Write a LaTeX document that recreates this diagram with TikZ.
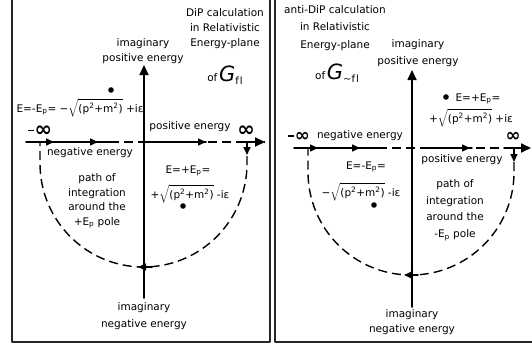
\documentclass[tikz,border=0pt]{standalone}
\usepackage{fontspec}
\setmainfont{DejaVu Sans}
\usetikzlibrary{arrows.meta}
\newcommand{\rad}[1]{$\sqrt{\mbox{#1}}$}
\newcommand{\sqd}{\textsuperscript{2}}
\newcommand{\Ep}{E\textsubscript{p}}
\newcommand{\infsym}[1]{{\fontsize{#1}{#1}\selectfont\bfseries ∞}}
\newcommand{\minf}[1]{\rule[5pt]{5.5pt}{1.5pt}\kern1pt\infsym{#1}}
\newcommand{\Gof}[1]{of\,{\fontsize{21}{21}\selectfont\itshape G}\raisebox{-3pt}{\fontsize{10}{10}\selectfont #1}}
\begin{document}
\begin{tikzpicture}[line join=round, line cap=round, x=1pt, y=-1pt,
  font=\fontsize{10.5}{15}\selectfont, >={Triangle[length=10pt,width=9pt]}]
\tikzset{lbl/.style={align=center, inner sep=0pt},
  axis/.style={line width=1.7pt},
  contour/.style={line width=1.4pt, dash pattern=on 9pt off 5pt, line cap=butt},
  midtip/.style={line width=1.5pt, -{Triangle[length=8pt,width=7pt]}},
  panel/.style={line width=1.8pt, draw=black!85}}
\useasboundingbox (0,0) rectangle (532,349);
% frames
\draw[panel] (12,0) -- (12,342) -- (270,342) -- (270,0);
\draw[panel] (275,0) -- (275,342) -- (532,342);
% left plane
\path (26,142) coordinate (Lw) (265,142) coordinate (Le)
  (144,298) coordinate (Ls) (144,65) coordinate (Ln)
  (40,142) coordinate (La) (247,142) coordinate (Lb);
\draw[contour] (Lw) -- (Le);
\draw[contour] (Lb) -- ++(0,21.5) arc[start angle=0, end angle=180, radius=103.5] -- (La);
\draw[axis] (Lw) -- (112,142);
\draw[axis] (144,142) -- (206,142);
\draw[axis,->] (238,142) -- (Le);
\draw[axis,->] (Ls) -- (Ln);
\foreach \a/\b in {44/54, 84/98, 194/206}
  \draw[midtip] (\a,142) -- (\b,142);
\draw[midtip] (Lb) -- (247,155);
\draw[midtip] (152,267) -- (138,267);
\foreach \p in {(111,90),(183,206)}
  \fill \p circle (2.8);
\node[lbl] (titleL) at (225,29) {DiP calculation\\in Relativistic\\Energy-plane};
\node[lbl] (ofL) at (225,75) {\Gof{f\kern1pt l}};
\node[lbl] (imagpL) at (143,51) {imaginary\\positive energy};
\node[lbl] (minusE) at (80,108) {E=-\Ep= −\rad{(p\sqd+m\sqd)} +iε};
\node[lbl] (minfL) at (40,131) {\minf{21}};
\node[lbl] (infL) at (246,131) {\infsym{21}};
\node[lbl] (posL) at (190,127) {positive energy};
\node[lbl] (negL) at (90,153) {negative energy};
\node[lbl] (plusEa) at (188,171) {E=+\Ep=};
\node[lbl] (plusEb) at (190,194) {+\rad{(p\sqd+m\sqd)} -iε};
\node[lbl, font=\fontsize{10.5}{14.5}\selectfont] (pathL) at (97,201) {path of\\integration\\around the\\+\Ep{} pole};
\node[lbl, font=\fontsize{10.5}{16.5}\selectfont] (imagnL) at (144,316) {imaginary\\negative energy};
% right plane
\path (294,148) coordinate (Rw) (531,148) coordinate (Re)
  (412,307) coordinate (Rs) (412,70) coordinate (Rn)
  (308,148) coordinate (Ra) (514,148) coordinate (Rb);
\draw[contour] (Rw) -- (Re);
\draw[contour] (Rb) -- ++(0,24) arc[start angle=0, end angle=180, radius=103] -- (Ra);
\draw[axis] (Rw) -- (380,148);
\draw[axis] (425,148) -- (472,148);
\draw[axis,->] (504,148) -- (Re);
\draw[axis,->] (Rs) -- (Rn);
\foreach \a/\b in {306/318, 346/360, 458/470}
  \draw[midtip] (\a,148) -- (\b,148);
\draw[midtip] (Rb) -- (514,162);
\draw[midtip] (418,275) -- (404,275);
\foreach \p in {(446,97),(374,205)}
  \fill \p circle (2.8);
\node[lbl, font=\fontsize{10.5}{17.5}\selectfont] (titleR) at (335,28) {anti-DiP calculation\\in Relativistic\\Energy-plane};
\node[lbl] (ofR) at (337,73) {\Gof{\textasciitilde f\kern1pt l}};
\node[lbl, font=\fontsize{10.5}{17}\selectfont] (imagpR) at (418,53) {imaginary\\positive energy};
\node[lbl] (plusEc) at (478,99) {E=+\Ep=};
\node[lbl] (plusEd) at (471,118) {+\rad{(p\sqd+m\sqd)} +iε};
\node[lbl] (minfR) at (299,137) {\minf{18}};
\node[lbl] (infR) at (513,137) {\infsym{18}};
\node[lbl] (negR) at (360,136) {negative energy};
\node[lbl] (posR) at (462,160) {positive energy};
\node[lbl] (minusEa) at (366,167) {E=-\Ep=};
\node[lbl] (minusEb) at (361,192) {−\rad{(p\sqd+m\sqd)} -iε};
\node[lbl, font=\fontsize{10.5}{16.7}\selectfont] (pathR) at (455,210) {path of\\integration\\around the\\-\Ep{} pole};
\node[lbl, font=\fontsize{10.5}{15}\selectfont] (imagnR) at (412,322) {imaginary\\negative energy};
\end{tikzpicture}
\end{document}
